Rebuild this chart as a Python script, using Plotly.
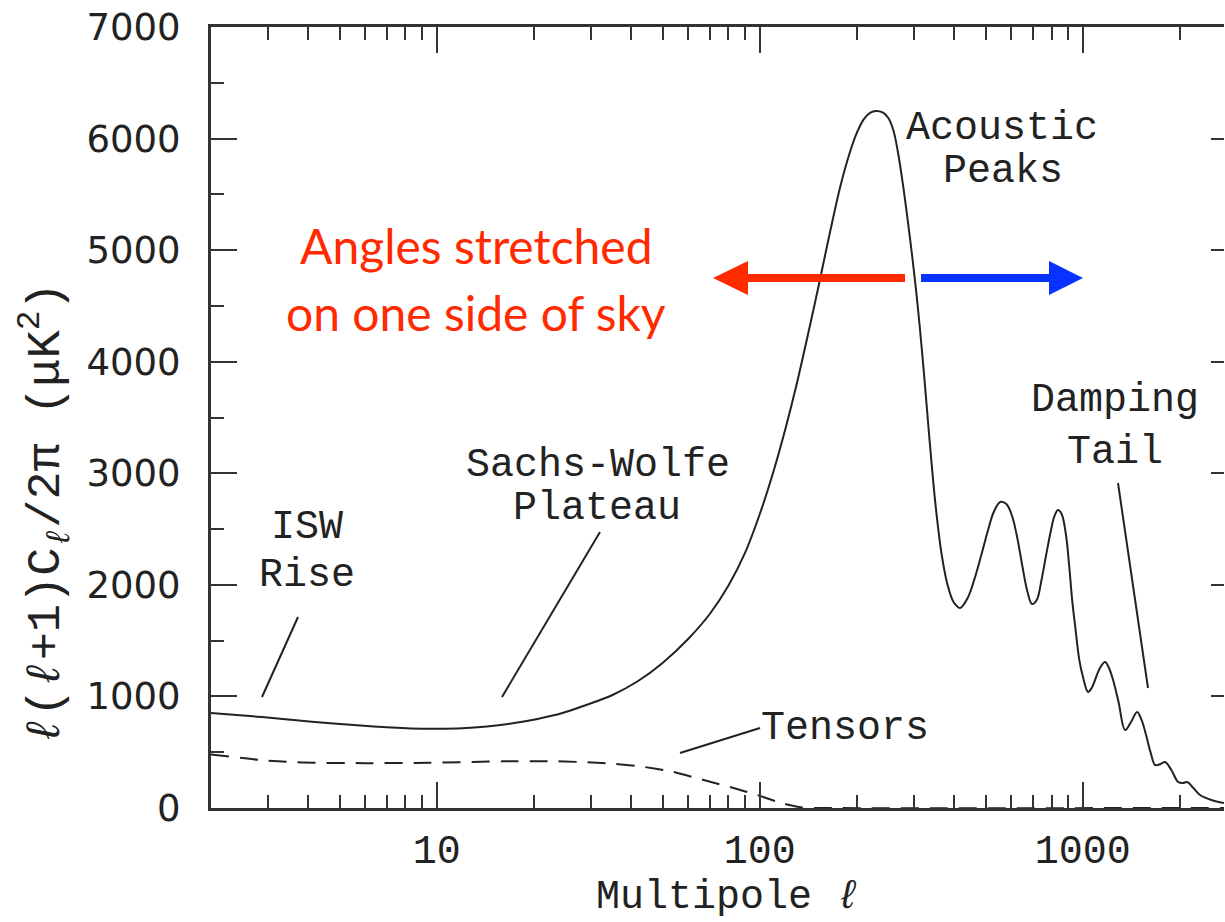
import math
import plotly.graph_objects as go

# ---------------- data ----------------
ell_scalar = [2, 2.4, 2.85, 3.4, 4.1, 4.9, 5.8, 7, 8.3, 10, 12, 14.3, 17, 20.5, 24.5, 29, 35,
              42, 50, 60, 70, 80, 90, 100, 110, 120, 130, 140, 153, 165, 178, 190, 200, 210,
              220, 229, 240, 250, 259, 268, 277, 287, 296, 305, 313, 322, 330, 340, 350, 365,
              380, 398, 417, 440, 463, 487, 509, 530, 555, 580, 604, 627, 649, 672, 696, 720,
              745, 770, 795, 817, 838, 860, 887, 907, 927, 950, 975, 1000, 1038, 1065, 1091,
              1130, 1172, 1205, 1241, 1290, 1352, 1410, 1473, 1520, 1570, 1620, 1675, 1740,
              1798, 1880, 1973, 2040, 2105, 2200, 2307, 2500, 2736]
cl_scalar = [851, 834, 816, 795, 774, 756, 739, 724, 713, 710, 714, 730, 757, 798, 851, 923,
             1013, 1138, 1300, 1515, 1739, 1994, 2286, 2635, 3007, 3397, 3796, 4204, 4715,
             5163, 5584, 5875, 6055, 6175, 6232, 6247, 6234, 6184, 6077, 5871, 5602, 5270,
             4957, 4625, 4302, 3908, 3540, 3101, 2716, 2286, 2017, 1846, 1793, 1882, 2061,
             2286, 2492, 2653, 2743, 2725, 2617, 2420, 2178, 1954, 1828, 1864, 2044, 2268,
             2474, 2617, 2671, 2635, 2447, 2178, 1864, 1595, 1330, 1180, 1040, 1076, 1147,
             1255, 1309, 1255, 1147, 950, 699, 771, 860, 789, 654, 502, 385, 394, 412, 341,
             233, 224, 233, 179, 117, 72, 45]

ell_tensor = [2, 2.8, 3.5, 4.2, 6, 9.5, 16, 22, 28, 35, 42, 54, 67, 83, 98, 118, 135, 160, 2736]
cl_tensor = [480, 432, 412, 405, 402, 405, 418, 420, 412, 398, 376, 323, 251, 179, 117, 40, 5, 0, 0]

x_major = [10, 100, 1000]
x_major_text = ["10", "100", "1000"]
x_minor = [3, 4, 5, 6, 7, 8, 9, 20, 30, 40, 50, 60, 70, 80, 90,
           200, 300, 400, 500, 600, 700, 800, 900, 2000]
y_major = [0, 1000, 2000, 3000, 4000, 5000, 6000, 7000]
y_minor = [500, 1500, 2500, 3500, 4500, 5500, 6500]

x_range = [2, 2736]
y_range = [0, 7000]

# ---------------- layout geometry (pixels) ----------------
W, H = 1225, 922
L, R, T, B = 211, 1224, 27, 808


def px(x):
    return (x - L) / (R - L)


def py(y):
    return (B - y) / (B - T)


INK = "#222222"
AX = "#333333"
SERIF = "Liberation Mono"

fig = go.Figure()
fig.add_trace(go.Scatter(x=ell_scalar, y=cl_scalar, mode="lines",
                         line=dict(color=INK, width=2, shape="spline", smoothing=1.0),
                         showlegend=False, hoverinfo="skip"))
fig.add_trace(go.Scatter(x=ell_tensor, y=cl_tensor, mode="lines",
                         line=dict(color=INK, width=2, dash="18px,11px", shape="spline", smoothing=0.6),
                         showlegend=False, hoverinfo="skip"))
fig.add_trace(go.Scatter(x=[x_range[0]], y=[0], yaxis="y2", mode="markers",
                         marker=dict(opacity=0), showlegend=False, hoverinfo="skip"))

fig.update_layout(
    width=W, height=H,
    margin=dict(l=L, r=W - R, t=T, b=H - B),
    paper_bgcolor="white", plot_bgcolor="white",
    xaxis=dict(type="log", range=[math.log10(x_range[0]), math.log10(x_range[1])],
               tickvals=x_major, ticktext=x_major_text,
               ticks="inside", ticklen=26, tickwidth=2, tickcolor=AX,
               minor=dict(tickvals=x_minor, ticks="inside", ticklen=13, tickwidth=2, tickcolor=AX),
               showline=True, linewidth=3, linecolor=AX, mirror="ticks",
               showgrid=False, zeroline=False,
               tickfont=dict(family=SERIF, size=40, color=INK), ticklabelstandoff=4),
    yaxis=dict(range=y_range, tickvals=y_major,
               ticks="inside", ticklen=26, tickwidth=2, tickcolor=AX,
               minor=dict(tickvals=y_minor, ticks="inside", ticklen=13, tickwidth=2, tickcolor=AX),
               showline=True, linewidth=3, linecolor=AX, mirror=False,
               showgrid=False, zeroline=False,
               tickfont=dict(family="DejaVu Sans", size=37, color=INK), ticklabelstandoff=20),
    yaxis2=dict(range=y_range, overlaying="y", side="right", tickvals=y_major,
                ticks="inside", ticklen=13, tickwidth=2, tickcolor=AX,
                showticklabels=False, showline=False, showgrid=False, zeroline=False),
)

# ---------------- text ----------------
def label(text, x, y, size=40, color=INK, family=SERIF, angle=0):
    fig.add_annotation(text=text, xref="paper", yref="paper", x=px(x), y=py(y),
                       showarrow=False, xanchor="center", yanchor="middle",
                       textangle=angle, font=dict(family=family, size=size, color=color))


label("Acoustic", 1002, 128)
label("Peaks", 1003, 171)
label("Damping", 1115, 400)
label("Tail", 1115, 452)
label("Sachs-Wolfe", 598, 465)
label("Plateau", 597, 508)
label("ISW", 307, 527)
label("Rise", 307, 575)
label("Tensors", 845, 728)
label("Multipole <i>ℓ</i>", 728, 897)
label("<i>ℓ</i>(<i>ℓ</i>+1)C<sub><i>ℓ</i></sub>/2π (μK<sup>2</sup>)", 45, 514, size=47, angle=-90)

RED = "#ff2a00"
BLUE = "#0a32ff"
label("Angles stretched", 476, 245, size=48, color=RED, family="Lato")
label("on one side of sky", 476, 312, size=48, color=RED, family="Lato")

# ---------------- leader lines ----------------
leaders = [((262, 697), (298, 617)),
           ((502, 697), (600, 532)),
           ((1148, 688), (1118, 483)),
           ((680, 753), (760, 728))]
for (x0, y0), (x1, y1) in leaders:
    fig.add_shape(type="line", xref="paper", yref="paper",
                  x0=px(x0), y0=py(y0), x1=px(x1), y1=py(y1),
                  line=dict(color=INK, width=2))

# ---------------- arrows ----------------
AY = 278
fig.add_shape(type="line", xref="paper", yref="paper", x0=px(905), y0=py(AY), x1=px(742), y1=py(AY),
              line=dict(color=RED, width=8))
fig.add_shape(type="path", xref="paper", yref="paper",
              path=f"M {px(713)} {py(AY)} L {px(748)} {py(AY - 17)} L {px(748)} {py(AY + 17)} Z",
              fillcolor=RED, line=dict(width=0))
fig.add_shape(type="line", xref="paper", yref="paper", x0=px(921), y0=py(AY), x1=px(1055), y1=py(AY),
              line=dict(color=BLUE, width=8))
fig.add_shape(type="path", xref="paper", yref="paper",
              path=f"M {px(1083)} {py(AY)} L {px(1049)} {py(AY - 17)} L {px(1049)} {py(AY + 17)} Z",
              fillcolor=BLUE, line=dict(width=0))

fig.write_html("out.html")
